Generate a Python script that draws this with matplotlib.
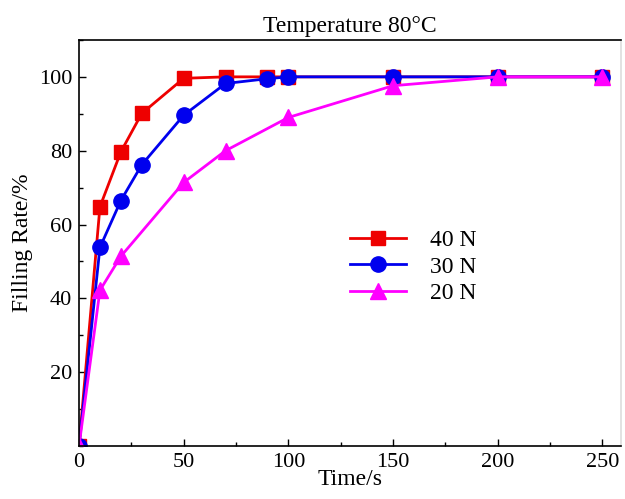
import numpy as np
import matplotlib
matplotlib.use("Agg")
import matplotlib.pyplot as plt
from matplotlib.ticker import MultipleLocator

plt.rcParams['font.family'] = ['Liberation Serif', 'DejaVu Serif']

t_40 = [0, 10, 20, 30, 50, 70, 90, 100, 150, 200, 250]
fill_40 = [0, 64.8, 79.7, 90.1, 99.6, 100, 100, 100, 100, 100, 100]

t_30 = [0, 10, 20, 30, 50, 70, 90, 100, 150, 200, 250]
fill_30 = [0, 53.8, 66.5, 76.2, 89.6, 98.2, 99.5, 100, 100, 100, 100]

t_20 = [0, 10, 20, 50, 70, 100, 150, 200, 250]
fill_20 = [0, 42.2, 51.4, 71.4, 80.0, 89.0, 97.6, 100, 100]

fig = plt.figure(figsize=(6.25, 4.99), dpi=100)
ax = fig.add_axes([0.1264, 0.106, 0.8676, 0.814])

ax.plot(t_40, fill_40, color='#ee0000', marker='s', markersize=10, lw=2, label='40 N')
ax.plot(t_30, fill_30, color='#0000ee', marker='o', markersize=11, lw=2, label='30 N')
ax.plot(t_20, fill_20, color='#ff00ff', marker='^', markersize=11, lw=2, label='20 N')

ax.set_xlim(0, 259)
ax.set_ylim(0, 110)
ax.set_yticks([20, 40, 60, 80, 100])
ax.xaxis.set_major_locator(MultipleLocator(50))
ax.xaxis.set_minor_locator(MultipleLocator(25))
ax.yaxis.set_minor_locator(MultipleLocator(10))
ax.tick_params(which='both', direction='in', labelsize=16, width=1)
ax.tick_params(which='major', length=5, pad=5)
ax.tick_params(which='minor', length=3)
for s in ax.spines.values():
    s.set_linewidth(1.2)
ax.spines['right'].set_color('#dddddd')

ax.set_xlabel('Time/s', fontsize=17, labelpad=-2)
ax.set_ylabel('Filling Rate/%', fontsize=17, labelpad=4)
ax.set_title('Temperature 80\u00b0C', fontsize=17, pad=6)

ax.legend(loc='upper left', bbox_to_anchor=(0.46, 0.585), frameon=False,
          fontsize=17, handlelength=2.4, handletextpad=1.0, labelspacing=0.2)

fig.savefig('out.png', dpi=100)
